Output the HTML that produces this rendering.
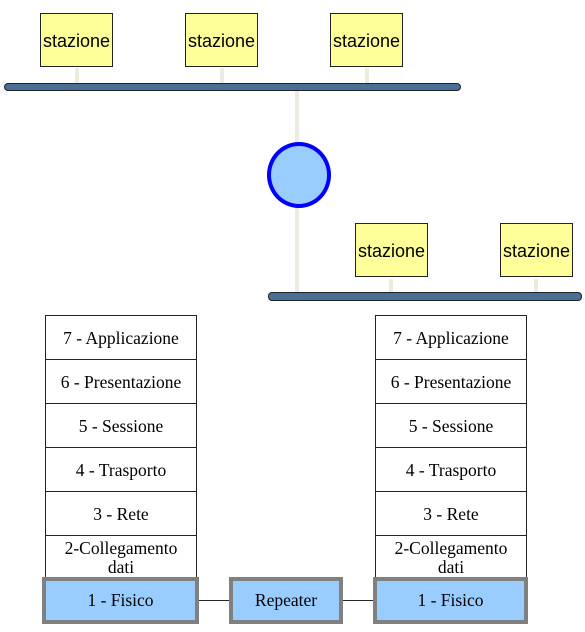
<!DOCTYPE html>
<html><head><style>
body{margin:0;width:585px;height:632px;background:#fff;position:relative;overflow:hidden}
.st{position:absolute;width:70px;height:54px;background:#ffff99;border:1px solid #222;font:18px "Liberation Sans",sans-serif;display:flex;align-items:center;justify-content:center;box-sizing:border-box;padding-top:2px}
.bus{position:absolute;height:8px;background:#4a6f96;border:1px solid #222;border-radius:4px;box-sizing:border-box}
.vl{position:absolute;width:4px;background:#ecebdf}
.row{position:absolute;width:152px;border:1px solid #222;box-sizing:border-box;background:#fff;font:17.5px "Liberation Serif",serif;display:flex;align-items:center;justify-content:center;text-align:center;line-height:19px;padding-top:2px}
.phy{position:absolute;height:47px;border:4px solid #808080;background:#99ccff;box-sizing:border-box;font:17.5px "Liberation Serif",serif;display:flex;align-items:center;justify-content:center}
.hl{position:absolute;height:1px;background:#222}
</style></head><body>
<div class="vl" style="left:75px;top:68px;height:17px"></div>
<div class="vl" style="left:220px;top:68px;height:17px"></div>
<div class="vl" style="left:365px;top:68px;height:17px"></div>
<div class="vl" style="left:295px;top:91px;height:202px"></div>
<div class="vl" style="left:389px;top:279px;height:14px"></div>
<div class="vl" style="left:534px;top:279px;height:14px"></div>
<div class="st" style="left:40px;top:13px;width:73px">stazione</div>
<div class="st" style="left:185px;top:13px;width:73px">stazione</div>
<div class="st" style="left:330px;top:13px;width:73px">stazione</div>
<div class="bus" style="left:4px;top:83px;width:457px"></div>
<div style="position:absolute;left:267px;top:142px;width:56px;height:58px;border:4px solid #0000ff;border-radius:50%;background:#99ccff"></div>
<div class="st" style="left:355px;top:223px;width:73px">stazione</div>
<div class="st" style="left:500px;top:223px;width:73px">stazione</div>
<div class="bus" style="left:268px;top:292px;width:314px;height:9px"></div>

<div class="row" style="left:45px;top:315px;height:45px">7 - Applicazione</div>
<div class="row" style="left:45px;top:359px;height:45px">6 - Presentazione</div>
<div class="row" style="left:45px;top:403px;height:45px">5 - Sessione</div>
<div class="row" style="left:45px;top:447px;height:45px">4 - Trasporto</div>
<div class="row" style="left:45px;top:491px;height:45px">3 - Rete</div>
<div class="row" style="left:45px;top:535px;height:44px">2-Collegamento<br>dati</div>

<div class="row" style="left:375px;top:315px;height:45px">7 - Applicazione</div>
<div class="row" style="left:375px;top:359px;height:45px">6 - Presentazione</div>
<div class="row" style="left:375px;top:403px;height:45px">5 - Sessione</div>
<div class="row" style="left:375px;top:447px;height:45px">4 - Trasporto</div>
<div class="row" style="left:375px;top:491px;height:45px">3 - Rete</div>
<div class="row" style="left:375px;top:535px;height:44px">2-Collegamento<br>dati</div>

<div class="hl" style="left:199px;top:600px;width:31px"></div>
<div class="hl" style="left:343px;top:600px;width:32px"></div>
<div class="phy" style="left:42px;top:577px;width:157px">1 - Fisico</div>
<div class="phy" style="left:229px;top:577px;width:114px">Repeater</div>
<div class="phy" style="left:373px;top:577px;width:155px">1 - Fisico</div>
</body></html>
